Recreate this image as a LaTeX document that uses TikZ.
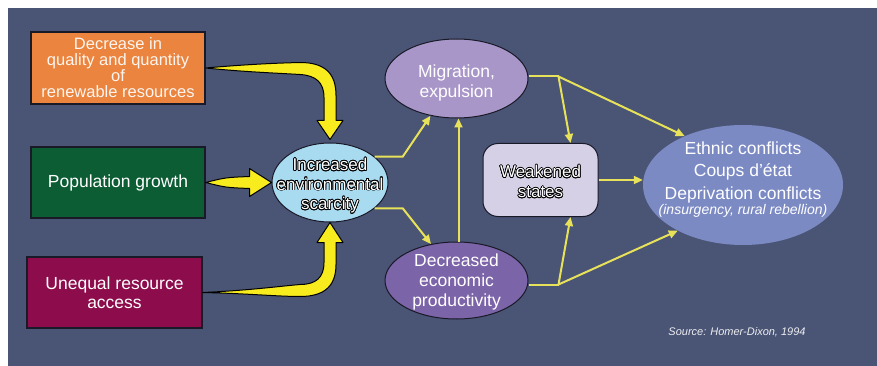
\documentclass[tikz,border=0pt]{standalone}
\usepackage{fontspec}
\setmainfont{Liberation Sans}
\usepackage[copies]{contour}
\contourlength{0.7pt}
\usetikzlibrary{shapes.geometric,arrows.meta,calc}
\definecolor{bgC}{RGB}{74,84,117}
\definecolor{orangeC}{RGB}{234,132,62}
\definecolor{greenC}{RGB}{12,92,52}
\definecolor{maroonC}{RGB}{141,12,76}
\definecolor{scarC}{RGB}{168,218,240}
\definecolor{migC}{RGB}{168,150,200}
\definecolor{decC}{RGB}{124,100,168}
\definecolor{weakC}{RGB}{214,208,230}
\definecolor{ethC}{RGB}{124,138,196}
\definecolor{yelC}{RGB}{248,236,30}
\definecolor{tyelC}{RGB}{232,226,90}
\definecolor{edgeC}{RGB}{25,25,40}
\newcommand{\ztab}[2][-7pt]{\makebox[0pt]{\smash{\raisebox{#1}{\begin{tabular}{@{}c@{}}#2\end{tabular}}}}}
\newcommand{\oc}[1]{\contour{black}{#1}}
\tikzset{
  srcbox/.style={rectangle, draw=edgeC, line width=1.2pt, text=white, align=center, inner sep=2pt,
    minimum width=174pt, minimum height=72pt, font=\fontsize{17.5}{19}\selectfont},
  ell/.style={ellipse, inner sep=0pt, text=white, font=\fontsize{17.5}{20}\selectfont},
  fatarrow/.style={fill=yelC, draw=black, line width=1pt, line join=round},
  thinline/.style={draw=tyelC, line width=2pt},
  thinarrow/.style={thinline, -{Triangle[length=9pt,width=8pt]}}
}
\begin{document}
\begin{tikzpicture}[x=1pt,y=-1pt]
\useasboundingbox (0,0) rectangle (877,366);
\fill[white] (0,0) rectangle (877,366);
\fill[bgC] (8,8) rectangle (877,366);

% source boxes
\node[srcbox, fill=orangeC, text=white!92!orangeC, font=\fontsize{16.5}{16}\selectfont] (orange) at (118,68)
  {Decrease in\\quality and quantity\\of\\renewable resources};
\node[srcbox, fill=greenC, minimum height=71pt] (green) at (118,182.5) {Population growth};
\node[srcbox, fill=maroonC, minimum width=175pt, minimum height=71pt] (maroon) at (114.5,292.5)
  {Unequal resource\\access};

% ellipses
\node[ell, draw=edgeC, line width=1pt, fill=scarC, minimum width=116pt, minimum height=79pt,
  font=\fontsize{17}{19.5}\selectfont] (scar) at (330,182.5)
  {\ztab[-8pt]{\oc{Increased}\\\oc{environmental}\\\oc{scarcity}}};
\node[ell, draw=edgeC, line width=1pt, fill=migC, minimum width=143pt, minimum height=79pt,
  font=\fontsize{17.5}{20}\selectfont] (mig) at (456.5,78.5)
  {\ztab[-9pt]{Migration,\\expulsion}};
\node[ell, draw=edgeC, line width=1pt, fill=decC, minimum width=143pt, minimum height=77pt] (dec) at (456.5,280.5)
  {\ztab[-6pt]{Decreased\\economic\\productivity}};
\node[rectangle, rounded corners=15pt, draw=edgeC, line width=1pt, fill=weakC, text=white,
  minimum width=115pt, minimum height=73pt, inner sep=0pt, font=\fontsize{17}{20}\selectfont] (weak) at (540.5,180)
  {\ztab[-8pt]{\oc{Weakened}\\\oc{states}}};
\node[ell, fill=ethC, minimum width=200pt, minimum height=120pt, font=\fontsize{17.5}{22.5}\selectfont] (eth) at (743,185)
  {\ztab[1pt]{Ethnic conflicts\\Coups d’état\\Deprivation conflicts\\[-7.5pt]
   {\fontsize{14}{14}\selectfont\itshape (insurgency, rural rebellion)}}};

\node[text=white!90!bgC, font=\fontsize{11}{13}\selectfont\itshape, inner sep=0pt] (src) at (737,332)
  {Source: Homer-Dixon, 1994};

% fat arrows
\coordinate (o1) at (orange.east);
\coordinate (t1) at ($(scar.north)+(0,-3)$);
\draw[fatarrow] (o1) .. controls ($(o1)+(45,-4)$) and ($(o1)+(75,-5)$) .. ($(t1)+(-30,-77)$)
  .. controls ($(t1)+(-5,-77)$) and ($(t1)+(6,-66)$) .. ($(t1)+(6,-44)$)
  -- ($(t1)+(6,-19)$) -- ($(t1)+(13,-19)$) -- (t1) -- ($(t1)+(-13,-19)$) -- ($(t1)+(-6,-19)$)
  -- ($(t1)+(-6,-42)$) .. controls ($(t1)+(-6,-57)$) and ($(t1)+(-14,-64)$) .. ($(t1)+(-30,-65)$)
  .. controls ($(o1)+(70,5)$) and ($(o1)+(40,4)$) .. (o1) -- cycle;

\coordinate (o2) at (green.east);
\coordinate (t2) at (scar.west);
\draw[fatarrow] (o2) .. controls ($(o2)+(20,-5)$) .. ($(t2)+(-22,-6)$) -- ($(t2)+(-22,-14)$)
  -- (t2) -- ($(t2)+(-22,14)$) -- ($(t2)+(-22,6)$) .. controls ($(o2)+(20,5)$) .. (o2) -- cycle;

\coordinate (o3) at (maroon.east);
\coordinate (t3) at (scar.south);
\draw[fatarrow] (o3) .. controls ($(o3)+(45,1)$) and ($(o3)+(75,4)$) .. ($(t3)+(-30,74)$)
  .. controls ($(t3)+(-5,74)$) and ($(t3)+(6,63)$) .. ($(t3)+(6,42)$)
  -- ($(t3)+(6,20)$) -- ($(t3)+(13,20)$) -- (t3) -- ($(t3)+(-13,20)$) -- ($(t3)+(-6,20)$)
  -- ($(t3)+(-6,40)$) .. controls ($(t3)+(-6,55)$) and ($(t3)+(-14,62)$) .. ($(t3)+(-30,62)$)
  .. controls ($(o3)+(75,-6)$) and ($(o3)+(45,-2)$) .. (o3) -- cycle;

% thin arrows
\coordinate (jm) at ($(mig.east)+(30,-2)$);
\coordinate (jd) at ($(dec.east)+(30,4)$);
\coordinate (wt) at ($(weak.north)+(30,0)$);
\coordinate (wb) at ($(weak.south)+(30,0)$);
\draw[thinarrow] (scar.30) -- ++(28,0) -- (mig.235);
\draw[thinarrow] (scar.-30) -- ++(28,0) -- (dec.125);
\draw[thinarrow] ($(dec.north)+(2,0)$) -- ($(mig.south)+(2,0)$);
\draw[thinline] ($(mig.east)+(0,-2)$) -- (jm);
\draw[thinarrow] (jm) -- (wt);
\draw[thinarrow] (jm) -- (eth.140);
\draw[thinline] ($(dec.east)+(0,4)$) -- (jd);
\draw[thinarrow] (jd) -- (wb);
\draw[thinarrow] (jd) -- (eth.215);
\draw[thinarrow] (weak.east) -- (weak.east -| eth.west);
\end{tikzpicture}
\end{document}
